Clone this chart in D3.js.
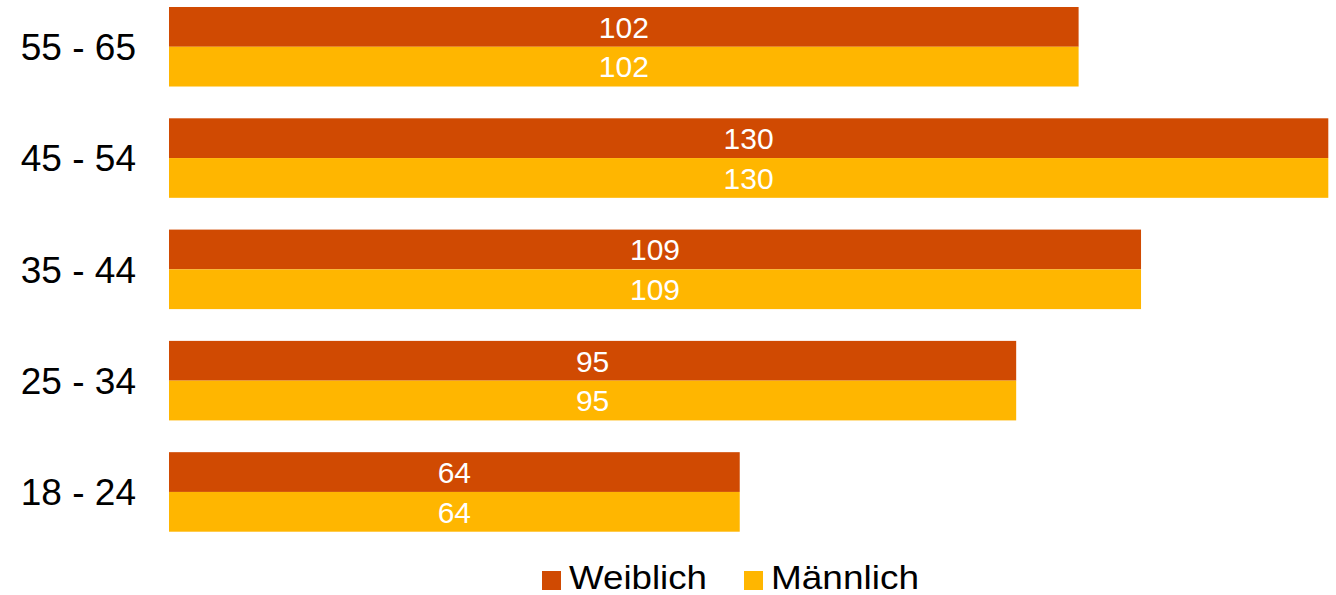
<!DOCTYPE html>
<html><head><meta charset="utf-8">
<script src="https://cdn.jsdelivr.net/npm/d3@7"></script>
<style>body{margin:0;background:#fff;} svg{display:block;font-family:Arial,"Liberation Sans",sans-serif;}</style>
</head><body><svg id="c" width="1336" height="595"></svg>
<script>
const categories = ["55 - 65","45 - 54","35 - 44","25 - 34","18 - 24"];
const weiblich = [102,130,109,95,64];
const maennlich = [102,130,109,95,64];
const seriesNames = ["Weiblich","Männlich"];
const colors = ["#D04A02","#FFB600"];

const svg = d3.select("#c");
const x = d3.scaleLinear().domain([0,130]).range([169,1328.3]);
const y = d3.scaleBand().domain(categories).range([7,531.7]).paddingInner(0.2855).paddingOuter(0);
const y1 = d3.scaleBand().domain(seriesNames).range([0,y.bandwidth()]);

const data = categories.map((c,i)=>({cat:c, vals:[weiblich[i],maennlich[i]]}));
const g = svg.append("g");
data.forEach(d=>{
  d.vals.forEach((v,j)=>{
    const yy = y(d.cat)+y1(seriesNames[j]);
    g.append("rect").attr("x",x(0)).attr("y",yy).attr("width",x(v)-x(0)).attr("height",y1.bandwidth())
      .attr("fill",colors[j]);
    g.append("text").attr("x",(x(0)+x(v))/2).attr("y",yy+y1.bandwidth()/2).attr("dy","0.36em")
      .attr("text-anchor","middle").attr("fill","#fff").attr("font-size",30).text(v);
  });
});
const yAxis = d3.axisLeft(y).tickSize(0).tickPadding(0);
const ag = svg.append("g").attr("transform","translate(136,0)").call(yAxis);
ag.select(".domain").remove();
ag.selectAll("text").attr("font-size",37).attr("fill","#000").attr("font-family","Arial,'Liberation Sans',sans-serif").attr("dy","0.36em");

const legX = [542,744];
const legLen = [138,148];
const lg = svg.append("g");
seriesNames.forEach((s,j)=>{
  lg.append("rect").attr("x",legX[j]).attr("y",571).attr("width",19).attr("height",19).attr("fill",colors[j]);
  lg.append("text").attr("x",legX[j]+27).attr("y",589).attr("font-size",34).attr("fill","#000")
    .attr("textLength",legLen[j]).attr("lengthAdjust","spacingAndGlyphs").text(s);
});
</script></body></html>
